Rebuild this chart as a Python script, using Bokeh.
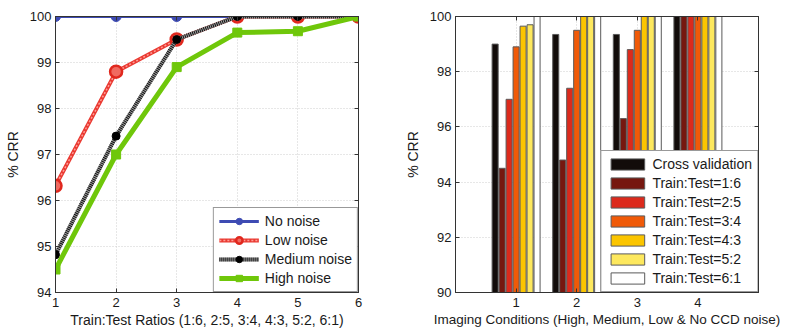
from bokeh.plotting import figure
from bokeh.layouts import row
from bokeh.models import ColumnDataSource, LinearAxis, Range1d, FixedTicker, CustomJSTickFormatter
from bokeh.transform import dodge
from bokeh.embed import file_html
from bokeh.resources import INLINE

# ---------------- data ----------------
ratios = [1, 2, 3, 4, 5, 6]
no_noise = [100, 100, 100, 100, 100, 100]
low_noise = [96.32, 98.8, 99.5, 100, 100, 100]
medium_noise = [94.82, 97.4, 99.5, 100, 100, 100]
high_noise = [94.5, 97.0, 98.9, 99.65, 99.68, 100]

conditions = [1, 2, 3, 4]
cross_validation = [99.0, 99.35, 99.35, 100]
tt_1_6 = [94.5, 94.8, 96.3, 100]
tt_2_5 = [97.0, 97.4, 98.8, 100]
tt_3_4 = [98.9, 99.5, 99.5, 100]
tt_4_3 = [99.65, 100, 100, 100]
tt_5_2 = [99.7, 100, 100, 100]
tt_6_1 = [100, 100, 100, 100]

left_xticks = [1, 2, 3, 4, 5, 6]
left_yticks = [94, 95, 96, 97, 98, 99, 100]
right_xticks = [1, 2, 3, 4]
right_yticks = [90, 92, 94, 96, 98, 100]

FONT = "Liberation Sans"
AX = "#333333"
TXT = "#1a1a1a"


def style(p, xt, yt, xlabel_size="14px"):
    p.background_fill_color = "white"
    p.border_fill_color = "white"
    p.outline_line_color = AX
    p.outline_line_width = 1
    for ax in p.below + p.left:
        ax.axis_line_color = AX
        ax.major_tick_line_color = AX
        ax.major_tick_in = 4
        ax.major_tick_out = 0
        ax.minor_tick_line_color = None
        ax.major_label_text_font = FONT
        ax.major_label_text_font_size = "13px"
        ax.major_label_text_color = TXT
        ax.axis_label_text_font = FONT
        ax.axis_label_text_font_size = "14px"
        ax.axis_label_text_font_style = "normal"
        ax.axis_label_text_color = TXT
    xa = p.below[0]
    ya = p.left[0]
    xa.axis_label_text_font_size = xlabel_size
    xa.ticker = FixedTicker(ticks=xt)
    ya.ticker = FixedTicker(ticks=yt)
    xa.major_label_standoff = 5
    xa.axis_label_standoff = 2
    ya.major_label_standoff = 4
    ya.axis_label_standoff = 6
    p.xgrid.ticker = FixedTicker(ticks=xt)
    p.ygrid.ticker = FixedTicker(ticks=yt)
    for g in (p.xgrid, p.ygrid):
        g.grid_line_color = "#cfcfcf"
        g.grid_line_dash = "1 2"
        g.grid_line_width = 1
    # mirrored ticks (box on)
    blank = CustomJSTickFormatter(code="return ''")
    r = LinearAxis(ticker=FixedTicker(ticks=yt), formatter=blank,
                   major_tick_in=4, major_tick_out=0, minor_tick_line_color=None,
                   axis_line_color=AX, major_tick_line_color=AX, major_label_standoff=0)
    t = LinearAxis(ticker=FixedTicker(ticks=xt), formatter=blank,
                   major_tick_in=4, major_tick_out=0, minor_tick_line_color=None,
                   axis_line_color=AX, major_tick_line_color=AX, major_label_standoff=0)
    p.add_layout(r, "right")
    p.add_layout(t, "above")


def style_legend(lg, gw, gh, standoff, pad, spacing, lh):
    lg.location = "bottom_right"
    lg.margin = 0
    lg.padding = pad
    lg.spacing = spacing
    lg.glyph_width = gw
    lg.glyph_height = gh
    lg.label_height = lh
    lg.label_standoff = standoff
    lg.label_text_font = FONT
    lg.label_text_font_size = "14px"
    lg.label_text_color = TXT
    lg.border_line_color = AX
    lg.border_line_width = 1
    lg.background_fill_color = "white"
    lg.background_fill_alpha = 1


# ---------------- left panel ----------------
p1 = figure(width=400, height=330, x_range=Range1d(1, 6), y_range=Range1d(94, 100),
            output_backend="svg", toolbar_location=None,
            min_border_left=55, min_border_right=42, min_border_top=16, min_border_bottom=37,
            x_axis_label="Train:Test Ratios (1:6, 2:5, 3:4, 4:3, 5:2, 6:1)", y_axis_label="% CRR")
style(p1, left_xticks, left_yticks)

BLUE = "#3e4bb3"
RED = "#ea3a32"
GREEN = "#6fc70a"

p1.line(ratios, no_noise, color=BLUE, line_width=3, legend_label="No noise")
p1.scatter(ratios, no_noise, marker="circle", size=10, fill_color=BLUE, line_color=BLUE,
           legend_label="No noise")

p1.line(ratios, low_noise, color=RED, line_width=4, legend_label="Low noise")
p1.line(ratios, low_noise, color="#ff9c95", line_width=1.5, line_dash="2 2", legend_label="Low noise")
p1.scatter(ratios, low_noise, marker="circle", size=12, fill_color="#f06a60", line_color="#e0281e",
           line_width=2.5, legend_label="Low noise")

p1.line(ratios, medium_noise, color="#a0a0a0", line_width=4, legend_label="Medium noise")
p1.line(ratios, medium_noise, color="#111111", line_width=4, line_dash="1 1", legend_label="Medium noise")
p1.scatter(ratios, medium_noise, marker="circle", size=8, fill_color="black", line_color="black",
           legend_label="Medium noise")

p1.line(ratios, high_noise, color=GREEN, line_width=5, legend_label="High noise")
p1.scatter(ratios, high_noise, marker="square", size=9, fill_color=GREEN, line_color=GREEN,
           legend_label="High noise")

style_legend(p1.legend[0], gw=40, gh=16, standoff=6, pad=5, spacing=3, lh=16)

# ---------------- right panel ----------------
p2 = figure(width=385, height=330, x_range=Range1d(0, 5), y_range=Range1d(90, 100),
            output_backend="svg", toolbar_location=None,
            min_border_left=55, min_border_right=27, min_border_top=16, min_border_bottom=36,
            x_axis_label="Imaging Conditions (High, Medium, Low & No CCD noise)", y_axis_label="% CRR")
style(p2, right_xticks, right_yticks, xlabel_size="13.5px")

src = ColumnDataSource(dict(cond=conditions, cv=cross_validation, a=tt_1_6, b=tt_2_5, c=tt_3_4,
                            d=tt_4_3, e=tt_5_2, f=tt_6_1))
series = [
    ("cv", "Cross validation", "#120c0a"),
    ("a", "Train:Test=1:6", "#76170f"),
    ("b", "Train:Test=2:5", "#dc2a1c"),
    ("c", "Train:Test=3:4", "#f05a08"),
    ("d", "Train:Test=4:3", "#fbc500"),
    ("e", "Train:Test=5:2", "#fde85e"),
    ("f", "Train:Test=6:1", "#ffffff"),
]
step = 0.1153
for i, (col, label, color) in enumerate(series):
    p2.vbar(x=dodge("cond", (i - 3) * step, range=p2.x_range), top=col, bottom=90, width=0.1,
            fill_color=color, line_color="#5a5a5a", line_width=1, source=src, legend_label=label)

style_legend(p2.legend[0], gw=42, gh=14, standoff=4, pad=5, spacing=3, lh=16)

layout = row(p1, p2)
open("out.html", "w").write(file_html(layout, INLINE))
